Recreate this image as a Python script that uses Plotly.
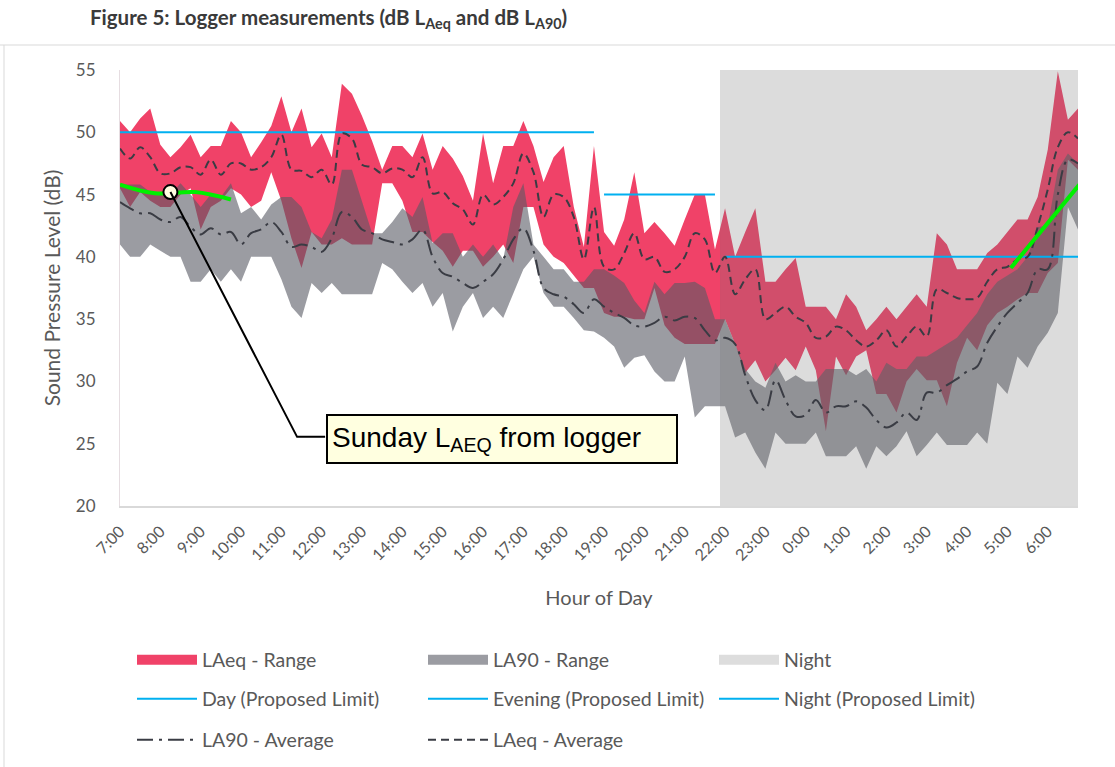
import plotly.graph_objects as go

# ---------------- data (15-minute logger intervals, 7:00 -> 6:45) ----------------
TIMES = []
for k in range(96):
    TIMES.append(f"{(7 + k // 4) % 24}:{(k % 4) * 15:02d}")

HOUR_LABELS = ["7:00", "8:00", "9:00", "10:00", "11:00", "12:00", "13:00", "14:00",
               "15:00", "16:00", "17:00", "18:00", "19:00", "20:00", "21:00", "22:00",
               "23:00", "0:00", "1:00", "2:00", "3:00", "4:00", "5:00", "6:00"]

LAEQ_MAX = [50.9, 50.0, 51.1, 51.9, 49.0, 48.0, 48.8, 49.8, 48.0, 48.9, 48.9, 50.9,
            50.0, 48.0, 49.2, 50.5, 52.9, 50.0, 51.9, 48.8, 49.9, 48.0, 53.9, 53.1,
            51.3, 49.3, 47.0, 48.9, 48.9, 48.0, 49.9, 47.0, 48.9, 47.9, 46.5, 44.5,
            49.9, 45.9, 48.9, 48.9, 50.9, 48.9, 46.0, 48.0, 48.9, 44.0, 40.8, 48.9,
            42.0, 40.9, 43.0, 46.8, 41.9, 42.8, 41.9, 40.9, 43.0, 45.0, 45.0, 40.6,
            43.9, 40.0, 42.0, 43.9, 38.0, 38.0, 39.0, 39.9, 36.0, 36.0, 36.0, 35.0,
            37.0, 36.0, 34.1, 35.0, 36.0, 35.0, 36.0, 37.0, 36.0, 41.9, 41.0, 39.0,
            39.0, 39.0, 40.3, 41.0, 42.0, 43.0, 43.0, 44.8, 48.6, 54.9, 51.0, 51.9]

LAEQ_MIN = [45.5, 44.0, 45.2, 44.5, 44.0, 44.0, 45.0, 45.5, 42.2, 44.0, 44.5, 45.5,
            45.0, 44.0, 44.5, 46.8, 44.5, 41.5, 39.1, 42.0, 41.0, 41.0, 41.5, 41.0,
            41.0, 41.0, 45.9, 45.9, 44.5, 42.0, 42.0, 41.2, 40.5, 39.2, 40.5, 40.5,
            39.2, 40.0, 41.0, 39.5, 44.0, 44.0, 41.0, 40.0, 39.5, 38.5, 37.5, 37.5,
            35.5, 35.2, 35.2, 35.0, 35.0, 37.5, 34.5, 33.5, 33.0, 33.0, 33.0, 33.0,
            35.0, 33.0, 30.7, 31.7, 30.0, 30.9, 31.9, 30.9, 32.8, 30.9, 26.0, 32.0,
            30.5, 32.0, 32.5, 29.0, 29.0, 27.5, 30.0, 31.0, 30.1, 30.1, 28.0, 31.5,
            33.5, 32.5, 34.5, 35.5, 36.0, 36.6, 37.1, 37.1, 38.7, 39.5, 47.8, 47.0]

LAEQ_AVG = [48.7, 47.9, 48.8, 48.0, 46.7, 46.7, 47.2, 47.2, 46.6, 47.8, 46.6, 47.5,
            47.5, 47.0, 47.2, 48.0, 49.8, 47.0, 46.9, 46.4, 47.0, 45.8, 49.9, 49.5,
            47.4, 47.2, 46.7, 47.1, 47.0, 46.4, 48.0, 45.1, 45.2, 44.3, 43.8, 42.6,
            45.0, 44.2, 44.8, 45.9, 48.3, 46.8, 43.2, 45.0, 44.8, 43.2, 39.8, 44.0,
            39.2, 39.0, 40.3, 41.9, 39.8, 40.0, 38.8, 39.0, 40.0, 41.9, 41.4, 38.7,
            40.0, 37.0, 38.2, 39.0, 35.0, 35.5, 36.0, 35.2, 34.7, 33.5, 33.6, 34.4,
            34.1, 33.3, 32.8, 33.3, 34.1, 32.8, 33.6, 34.4, 33.6, 37.4, 37.1, 36.7,
            36.6, 36.7, 38.0, 39.0, 39.2, 39.8, 40.0, 42.4, 45.4, 48.8, 50.0, 49.5]

LA90_MAX = [45.8, 45.8, 45.8, 45.2, 45.2, 45.0, 45.9, 45.0, 44.0, 45.0, 44.8, 45.9,
            43.5, 44.0, 43.0, 44.2, 44.8, 44.8, 44.0, 42.0, 41.5, 43.0, 47.0, 47.0,
            44.5, 41.9, 41.9, 42.8, 43.9, 43.2, 44.8, 41.1, 41.9, 41.9, 40.0, 41.0,
            40.0, 41.0, 39.8, 44.0, 45.9, 41.0, 40.0, 39.0, 39.0, 38.0, 38.0, 39.0,
            39.0, 38.5, 37.9, 36.5, 35.5, 38.0, 37.0, 37.9, 37.9, 38.0, 37.5, 35.0,
            35.0, 33.0, 31.0, 30.0, 29.5, 31.5, 30.0, 30.5, 30.0, 30.0, 31.0, 31.0,
            31.0, 30.5, 31.0, 30.0, 31.5, 31.0, 31.0, 32.0, 32.0, 32.5, 33.0, 33.5,
            34.5, 35.5, 37.0, 38.0, 38.5, 39.0, 40.0, 42.4, 42.5, 47.0, 48.3, 47.5]

LA90_MIN = [41.0, 40.0, 40.0, 41.0, 40.5, 40.0, 40.0, 38.0, 38.0, 39.0, 38.0, 39.0,
            38.0, 40.0, 40.0, 40.0, 38.2, 36.0, 35.1, 37.9, 37.1, 37.9, 37.0, 37.0,
            37.0, 37.0, 39.5, 39.0, 38.0, 37.1, 37.9, 36.0, 37.1, 34.0, 36.0, 37.1,
            35.1, 36.0, 35.1, 37.0, 39.0, 40.0, 37.1, 36.0, 36.0, 35.1, 34.1, 34.0,
            33.5, 32.8, 31.1, 31.9, 32.1, 30.8, 30.0, 30.0, 32.0, 27.1, 28.0, 28.0,
            28.0, 25.5, 25.9, 24.3, 23.0, 25.9, 25.0, 25.0, 25.0, 25.9, 24.0, 24.0,
            24.0, 24.8, 23.0, 24.8, 24.0, 24.8, 26.0, 24.0, 24.9, 25.9, 24.9, 24.9,
            24.9, 25.9, 25.0, 29.9, 29.0, 32.0, 31.1, 32.8, 33.9, 35.5, 44.0, 42.2]

LA90_AVG = [44.4, 43.9, 43.5, 43.5, 43.0, 42.8, 43.2, 42.4, 41.8, 42.3, 41.8, 42.0,
            41.0, 41.9, 42.2, 42.8, 42.0, 40.8, 41.0, 40.8, 40.4, 41.5, 43.6, 43.2,
            42.2, 41.9, 41.4, 41.2, 41.0, 41.4, 42.2, 40.0, 38.7, 38.4, 37.9, 37.5,
            38.0, 38.6, 39.8, 41.4, 42.3, 40.5, 37.5, 37.0, 36.8, 36.2, 35.5, 36.6,
            36.0, 35.5, 35.1, 34.5, 34.4, 34.7, 35.2, 34.9, 35.2, 35.1, 34.1, 33.3,
            33.5, 33.0, 30.5, 28.5, 27.7, 30.1, 28.5, 27.2, 27.3, 28.5, 27.5, 28.0,
            28.0, 28.4, 27.9, 26.9, 26.3, 26.7, 27.5, 26.9, 29.1, 29.1, 29.7, 30.2,
            30.8, 31.2, 33.1, 34.4, 35.5, 36.3, 37.1, 39.0, 39.0, 45.0, 47.8, 47.5]

# proposed limits: (value, first interval, last interval)
DAY_LIMIT = (50, "7:00", "18:45")
EVENING_LIMIT = (45, "19:00", "21:45")
NIGHT_LIMIT = (40, "22:00", "6:45")
NIGHT_START = "22:00"

# Sunday LAeq from logger (green traces)
SUNDAY_A_TIMES = ["7:00", "7:52", "8:52", "9:45"]
SUNDAY_A_LAEQ = [45.8, 45.1, 45.2, 44.6]
SUNDAY_B_TIMES = ["5:05", "6:47"]
SUNDAY_B_LAEQ = [39.1, 45.8]
CALLOUT_TIME = "8:15"
CALLOUT_LAEQ = 45.2

Y_MIN, Y_MAX = 20, 55


def pos(t):
    h, m = t.split(":")
    return ((int(h) - 7) % 24) * 4 + int(m) / 15.0


X = [pos(t) for t in TIMES]

RED = "rgb(240,66,104)"
GRAY = "rgba(88,90,100,0.6)"
GRAY_SWATCH = "rgb(155,156,162)"
NIGHT = "rgba(117,117,117,0.25)"
NIGHT_SWATCH = "rgb(221,221,221)"
BLUE = "rgb(0,176,240)"
DARK = "rgb(58,60,68)"
GREEN = "rgb(0,240,0)"
TEXT = "#595959"
FONT = "Lato, Carlito, Calibri, sans-serif"

fig = go.Figure()

# LAeq range
fig.add_trace(go.Scatter(x=X, y=LAEQ_MIN, mode="lines", line=dict(width=0),
                         showlegend=False, hoverinfo="skip"))
fig.add_trace(go.Scatter(x=X, y=LAEQ_MAX, mode="lines", line=dict(width=0),
                         fill="tonexty", fillcolor=RED, name="LAeq - Range", showlegend=False))
# LA90 range
fig.add_trace(go.Scatter(x=X, y=LA90_MIN, mode="lines", line=dict(width=0),
                         showlegend=False, hoverinfo="skip"))
fig.add_trace(go.Scatter(x=X, y=LA90_MAX, mode="lines", line=dict(width=0),
                         fill="tonexty", fillcolor=GRAY, name="LA90 - Range", showlegend=False))
# Night band
n0 = pos(NIGHT_START) - 0.5
n1 = X[-1]
fig.add_trace(go.Scatter(x=[n0, n1, n1, n0, n0], y=[Y_MIN, Y_MIN, Y_MAX, Y_MAX, Y_MIN],
                         mode="lines", line=dict(width=0), fill="toself", fillcolor=NIGHT,
                         name="Night", showlegend=False, hoverinfo="skip"))

# legend swatches for the filled ranges (thick lines)
for name, col in [("LAeq - Range", RED), ("LA90 - Range", GRAY_SWATCH), ("Night", NIGHT_SWATCH)]:
    fig.add_trace(go.Scatter(x=[None], y=[None], mode="lines", name=name,
                             line=dict(color=col, width=15), legend="legend"))


def limit_series(lim):
    val, a, b = lim
    a, b = pos(a), pos(b)
    return [val if a <= x <= b else None for x in X]


for name, lim in [("Day (Proposed Limit)", DAY_LIMIT),
                  ("Evening (Proposed Limit)", EVENING_LIMIT),
                  ("Night (Proposed Limit)", NIGHT_LIMIT)]:
    fig.add_trace(go.Scatter(x=X, y=limit_series(lim), mode="lines", name=name,
                             line=dict(color=BLUE, width=2), legend="legend2",
                             connectgaps=False))

fig.add_trace(go.Scatter(x=X, y=LA90_AVG, mode="lines", name="LA90 - Average",
                         line=dict(color=DARK, width=2, dash="16px,6px,3px,6px",
                                   shape="spline", smoothing=1.0), legend="legend3"))
fig.add_trace(go.Scatter(x=X, y=LAEQ_AVG, mode="lines", name="LAeq - Average",
                         line=dict(color=DARK, width=2, dash="8px,5px",
                                   shape="spline", smoothing=1.0), legend="legend3"))

# Sunday green lines
fig.add_trace(go.Scatter(x=[pos(t) for t in SUNDAY_A_TIMES], y=SUNDAY_A_LAEQ, mode="lines",
                         line=dict(color=GREEN, width=4, shape="spline"), showlegend=False))
fig.add_trace(go.Scatter(x=[pos(t) for t in SUNDAY_B_TIMES], y=SUNDAY_B_LAEQ, mode="lines",
                         line=dict(color=GREEN, width=4), showlegend=False))

# callout leader
cx, cy = pos(CALLOUT_TIME), CALLOUT_LAEQ
elbow_x, elbow_y = 17.56, 25.55
box_left = 20.34
fig.add_shape(type="path", xref="x", yref="y",
              path=f"M{cx},{cy} L{elbow_x},{elbow_y} L{box_left},{elbow_y}",
              line=dict(color="black", width=2))
fig.add_trace(go.Scatter(x=[cx], y=[cy], mode="markers", showlegend=False,
                         marker=dict(size=14, color="#FFFDE0",
                                     line=dict(color="black", width=2))))
fig.add_annotation(x=37.85, y=25.38, xref="x", yref="y", showarrow=False,
                   text="Sunday L<sub>AEQ</sub> from logger", align="left",
                   font=dict(family="Liberation Sans, Arial, sans-serif", size=28, color="black"),
                   bgcolor="#FFFFE0", bordercolor="black", borderwidth=2, borderpad=4,
                   width=340, height=38)

# outer frame lines (paper coords)
L, R, T, B = 120, 1078, 70, 506
FW, FH = 1115, 767
W, H = R - L, B - T
def px(xp): return (xp - L) / W
def py(yp): return (B - yp) / H
fig.add_shape(type="line", xref="paper", yref="paper", x0=px(0), x1=px(FW), y0=py(45), y1=py(45),
              line=dict(color="#D9D9D9", width=1))
fig.add_shape(type="line", xref="paper", yref="paper", x0=px(4), x1=px(4), y0=py(45), y1=py(FH),
              line=dict(color="#D9D9D9", width=1))

legend_common = dict(orientation="h", xanchor="left", yanchor="middle",
                     xref="container", yref="container", x=132 / FW,
                     entrywidth=216, entrywidthmode="pixels", itemwidth=60,
                     font=dict(family=FONT, size=19.5, color=TEXT),
                     bgcolor="rgba(0,0,0,0)", traceorder="normal")

fig.update_layout(
    width=FW, height=FH,
    margin=dict(l=L, r=FW - R, t=T, b=FH - B, autoexpand=False),
    paper_bgcolor="white", plot_bgcolor="white",
    font=dict(family=FONT, color=TEXT),
    title=dict(text="<b>Figure 5: Logger measurements (dB L<sub>Aeq</sub> and dB L<sub>A90</sub>)</b>",
               x=90 / FW, xanchor="left", xref="container",
               y=1 - 18 / FH, yanchor="middle", yref="container",
               font=dict(family=FONT, size=20.5, color="#3A3A3A")),
    xaxis=dict(range=[0, X[-1]], tickmode="array",
               tickvals=[pos(h) for h in HOUR_LABELS], ticktext=HOUR_LABELS,
               tickangle=-45, tickfont=dict(size=16, color=TEXT), showgrid=False,
               showline=True, linecolor="#D9D9D9", linewidth=1.5, zeroline=False, ticks="",
               ticklabelstandoff=8, automargin=False,
               title=dict(text="Hour of Day", font=dict(size=20, color=TEXT), standoff=28)),
    yaxis=dict(range=[Y_MIN, Y_MAX], dtick=5, tick0=20, showgrid=False, zeroline=False,
               showline=True, linecolor="#E6DDE1", linewidth=1, ticks="",
               tickfont=dict(size=17, color=TEXT), ticklabelstandoff=20, automargin=False,
               title=dict(text="Sound Pressure Level (dB)", font=dict(size=21, color=TEXT), standoff=9)),
    legend=dict(legend_common, y=1 - 660 / FH),
    legend2=dict(legend_common, y=1 - 699 / FH),
    legend3=dict(legend_common, y=1 - 740 / FH),
    showlegend=True,
)

fig.write_html("out.html", config={"displayModeBar": False},
               post_script="document.body.style.margin='0';")
